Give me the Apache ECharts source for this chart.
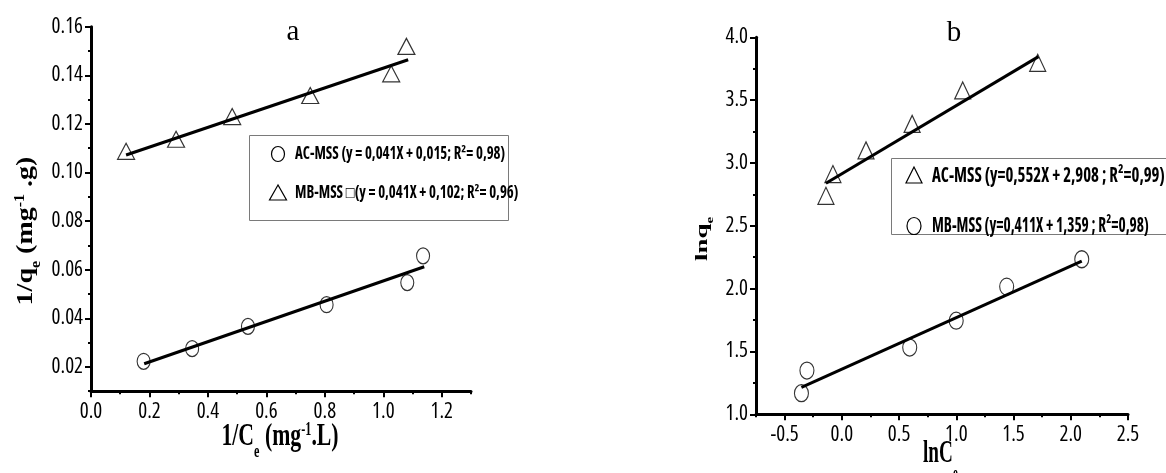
<!DOCTYPE html>
<html><head><meta charset="utf-8">
<script src="https://cdn.jsdelivr.net/npm/echarts@6/dist/echarts.min.js"></script>
<style>html,body{margin:0;padding:0;background:#fff}#c{width:1166px;height:473px}</style>
</head><body><div id="c"></div>
<script>
// ---- Panel a: 1/qe vs 1/Ce ----
const acX_a = [0.18, 0.346, 0.537, 0.806, 1.082, 1.136];
const acY_a = [0.0223, 0.0275, 0.0367, 0.0456, 0.0547, 0.0657];
const mbX_a = [0.12, 0.291, 0.483, 0.750, 1.027, 1.079];
const mbY_a = [0.1087, 0.1137, 0.123, 0.1317, 0.1406, 0.1519];
const fitAcX_a = [0.182, 1.14];
const fitAcY_a = [0.0213, 0.0612];
const fitMbX_a = [0.12, 1.085];
const fitMbY_a = [0.1072, 0.1464];
const xLabelsA = [0, 0.2, 0.4, 0.6, 0.8, 1.0, 1.2];
const yLabelsA = [0.02, 0.04, 0.06, 0.08, 0.10, 0.12, 0.14, 0.16];
// ---- Panel b: lnqe vs lnCe ----
const acX_b = [-0.139, -0.078, 0.211, 0.614, 1.056, 1.711];
const acY_b = [2.739, 2.912, 3.10, 3.311, 3.577, 3.797];
const mbX_b = [-0.353, -0.305, 0.593, 0.999, 1.44, 2.096];
const mbY_b = [1.168, 1.348, 1.531, 1.745, 2.016, 2.234];
const fitAcX_b = [-0.139, 1.718];
const fitAcY_b = [2.838, 3.846];
const fitMbX_b = [-0.353, 2.096];
const fitMbY_b = [1.215, 2.218];
const xLabelsB = [-0.5, 0, 0.5, 1.0, 1.5, 2.0, 2.5];
const yLabelsB = [1.0, 1.5, 2.0, 2.5, 3.0, 3.5, 4.0];
const legendA = ['AC-MSS (y = 0,041X + 0,015; R\u00b2= 0,98)', 'MB-MSS \u25a1(y = 0,041X + 0,102; R\u00b2= 0,96)'];
const legendB = ['AC-MSS (y=0,552X + 2,908 ; R\u00b2=0,99)', 'MB-MSS (y=0,411X + 1,359 ; R\u00b2=0,98)'];

const zip = (xs, ys) => xs.map((x, i) => [x, ys[i]]);
const TICKFONT = "'Open Sans','Liberation Sans',sans-serif";
const SERIF = "'Liberation Serif','DejaVu Serif',serif";
const ELLIPSE = 'path://M50,0 A50,50 0 1,1 50,100 A50,50 0 1,1 50,0 Z';

function mainAxis(gi, pos, min, max, step, labels, digits, margin) {
  return {
    type: 'value', gridIndex: gi, position: pos, min: min, max: max, interval: step,
    axisLine: {show: true, onZero: false, lineStyle: {color: '#000', width: 3}},
    axisTick: {show: true, customValues: labels, length: 6, lineStyle: {color: '#000', width: 2}},
    axisLabel: {show: true, customValues: labels, formatter: v => Number(v).toFixed(digits),
      color: '#000', fontFamily: TICKFONT, fontWeight: 'condensed', fontSize: 21, margin: margin},
    splitLine: {show: false}
  };
}
function minorAxis(gi, pos, min, max, step) {
  return {
    type: 'value', gridIndex: gi, position: pos, min: min, max: max, interval: step,
    axisLine: {show: false, onZero: false},
    axisTick: {show: true, length: 3, lineStyle: {color: '#000', width: 2}},
    axisLabel: {show: false}, splitLine: {show: false}
  };
}
const markerStyle = {color: 'rgba(0,0,0,0)', borderColor: '#000', borderWidth: 1.2};
function scatter(xi, xs, ys, sym, size) {
  return {type: 'scatter', xAxisIndex: xi, yAxisIndex: xi, data: zip(xs, ys),
    symbol: sym, symbolSize: size, itemStyle: markerStyle, z: 3, silent: true};
}
function fit(xi, xs, ys) {
  return {type: 'line', xAxisIndex: xi, yAxisIndex: xi, data: zip(xs, ys), symbol: 'none',
    lineStyle: {color: '#000', width: 3}, z: 2, silent: true};
}

// main text top-aligned; subscript bottom-aligned in a taller line; superscript top-aligned
function richT(size, subL) {
  const small = Math.round(size * 0.56);
  return {
    b: {fontSize: size, lineHeight: size, verticalAlign: 'top', fontFamily: SERIF, fontWeight: 'bold'},
    s: {fontSize: small, lineHeight: subL, verticalAlign: 'bottom', fontFamily: SERIF, fontWeight: 'bold'},
    p: {fontSize: small, lineHeight: small, verticalAlign: 'top', fontFamily: SERIF, fontWeight: 'bold'}
  };
}
const LEGFONT_A = "bold condensed 17px 'Open Sans','Liberation Sans',sans-serif";
const LEGFONT_B = "bold condensed 21px 'Open Sans','Liberation Sans',sans-serif";
const mk = {fill: 'none', stroke: '#000', lineWidth: 1.2};

const option = {
  backgroundColor: '#fff',
  animation: false,
  grid: [
    {left: 91, top: 26.7, width: 380, height: 364.5, outerBoundsMode: 'none', containLabel: false},
    {left: 756, top: 37.3, width: 372, height: 377, outerBoundsMode: 'none', containLabel: false}
  ],
  xAxis: [
    mainAxis(0, 'bottom', 0, 1.3, 0.1, xLabelsA, 1, 10),
    mainAxis(1, 'bottom', -0.75, 2.5, 0.25, xLabelsB, 1, 10),
    minorAxis(0, 'bottom', 0, 1.3, 0.1),
    minorAxis(1, 'bottom', -0.75, 2.5, 0.25)
  ],
  yAxis: [
    mainAxis(0, 'left', 0.01, 0.16, 0.01, yLabelsA, 2, 8),
    mainAxis(1, 'left', 1.0, 4.0, 0.25, yLabelsB, 1, 8),
    minorAxis(0, 'left', 0.01, 0.16, 0.01),
    minorAxis(1, 'left', 1.0, 4.0, 0.25)
  ],
  series: [
    fit(0, fitAcX_a, fitAcY_a),
    fit(0, fitMbX_a, fitMbY_a),
    scatter(0, acX_a, acY_a, ELLIPSE, [13, 16]),
    scatter(0, mbX_a, mbY_a, 'triangle', [17, 16]),
    fit(1, fitAcX_b, fitAcY_b),
    fit(1, fitMbX_b, fitMbY_b),
    scatter(1, acX_b, acY_b, 'triangle', [16, 17]),
    scatter(1, mbX_b, mbY_b, ELLIPSE, [14, 17])
  ],
  graphic: [
    // panel letters
    {type: 'text', x: 293, y: 32, style: {text: 'a', font: '29px ' + SERIF, fill: '#000', align: 'center', verticalAlign: 'middle'}},
    {type: 'text', x: 954, y: 33, style: {text: 'b', font: '29px ' + SERIF, fill: '#000', align: 'center', verticalAlign: 'middle'}},
    // axis titles panel a
    {type: 'text', x: 280, y: 421, scaleX: 0.68,
      style: {text: '{b|1/C}{s|e}{b| (mg}{p|-1}{b|.L)}', rich: richT(32, 40), fill: '#000', align: 'center', verticalAlign: 'top'}},
    {type: 'text', x: 14, y: 231, rotation: Math.PI / 2, scaleY: 0.85,
      style: {text: '{b|1/q}{s|e}{b| (mg}{p|-1}{b| .g)}', rich: richT(28, 34), fill: '#000', align: 'center', verticalAlign: 'top'}},
    // axis titles panel b
    {type: 'text', x: 923, y: 438, scaleX: 0.6,
      style: {text: '{b|lnC}{s|e}', rich: richT(32, 45), fill: '#000', align: 'left', verticalAlign: 'top'}},
    {type: 'text', x: 694, y: 239, rotation: Math.PI / 2, scaleY: 0.65,
      style: {text: '{b|lnq}{s|e}', rich: richT(27, 33), fill: '#000', align: 'center', verticalAlign: 'top'}},
    // legend a
    {type: 'rect', shape: {x: 249.5, y: 135.5, width: 259, height: 85}, style: {fill: 'none', stroke: '#7a7a7a', lineWidth: 1}},
    {type: 'ellipse', shape: {cx: 278, cy: 154, rx: 6.5, ry: 7.5}, style: mk},
    {type: 'polygon', shape: {points: [[278, 185], [269.5, 200], [286.5, 200]]}, style: mk},
    {type: 'text', x: 295, y: 154, scaleX: 0.87, style: {text: legendA[0], font: LEGFONT_A, fill: '#000', align: 'left', verticalAlign: 'middle'}},
    {type: 'text', x: 295, y: 193, scaleX: 0.87, style: {text: legendA[1], font: LEGFONT_A, fill: '#000', align: 'left', verticalAlign: 'middle'}},
    // legend b
    {type: 'rect', shape: {x: 891.5, y: 158.5, width: 290, height: 76}, style: {fill: 'none', stroke: '#7a7a7a', lineWidth: 1}},
    {type: 'polygon', shape: {points: [[914, 167], [906, 183], [922, 183]]}, style: mk},
    {type: 'ellipse', shape: {cx: 914, cy: 226, rx: 7, ry: 8.5}, style: mk},
    {type: 'text', x: 932, y: 176, scaleX: 0.80, style: {text: legendB[0], font: LEGFONT_B, fill: '#000', align: 'left', verticalAlign: 'middle'}},
    {type: 'text', x: 932, y: 226, scaleX: 0.73, style: {text: legendB[1], font: LEGFONT_B, fill: '#000', align: 'left', verticalAlign: 'middle'}}
  ]
};
const chart = echarts.init(document.getElementById('c'), null, {renderer: 'canvas'});
chart.setOption(option);
</script></body></html>
